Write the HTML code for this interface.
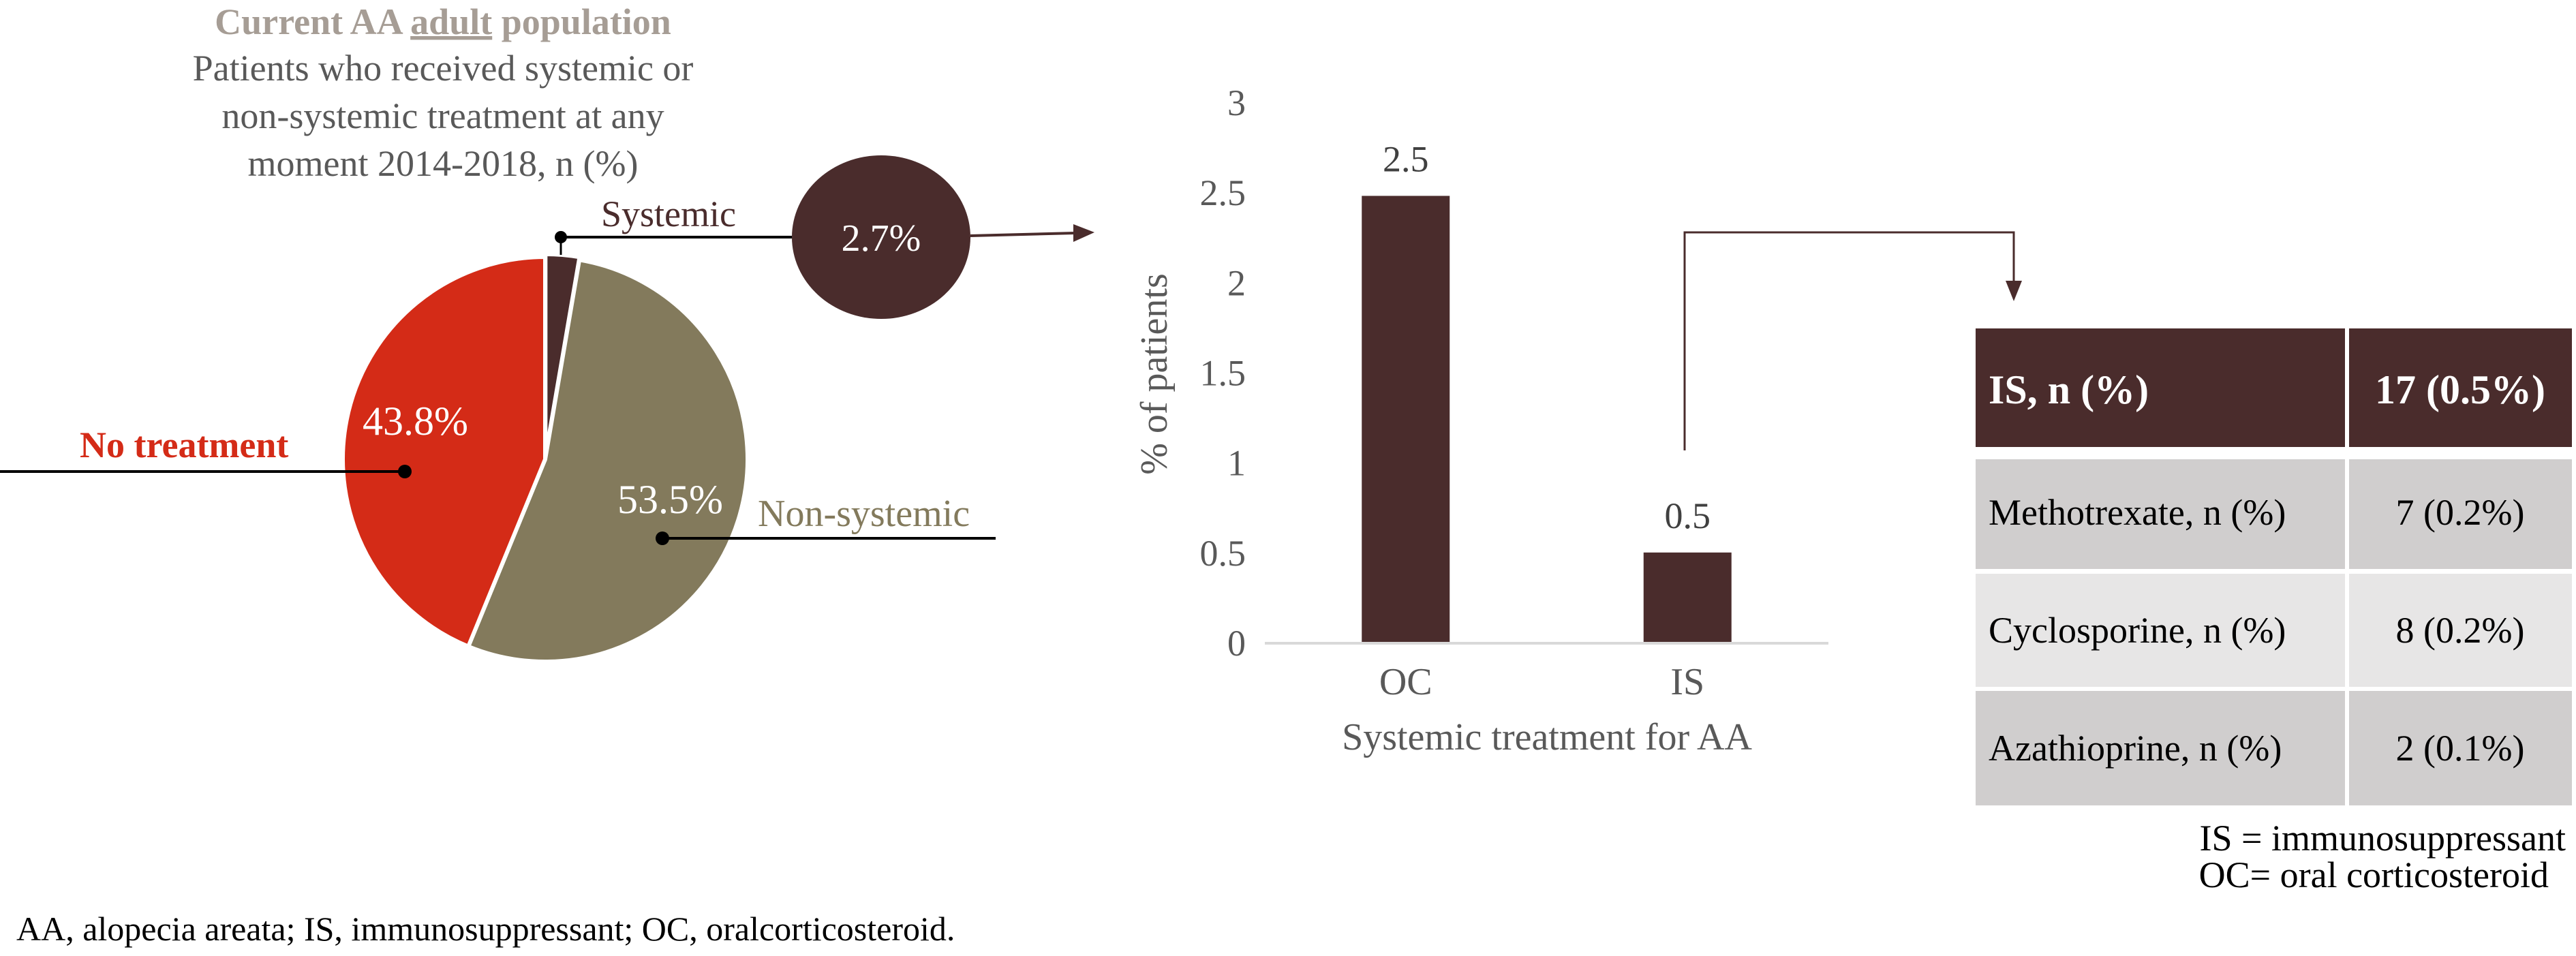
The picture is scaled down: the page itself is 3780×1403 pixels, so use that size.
<!DOCTYPE html>
<html><head><meta charset="utf-8"><style>
html,body{margin:0;padding:0;background:#fff;}
svg{display:block;font-family:"Liberation Serif",serif;}
</style></head><body>
<svg id="fig" width="3780" height="1403" viewBox="0 0 3780 1403" xmlns="http://www.w3.org/2000/svg">
<g text-anchor="middle" font-size="54">
  <text x="650" y="50" fill="#a69d95" font-weight="bold">Current AA <tspan text-decoration="underline">adult</tspan> population</text>
  <text x="650" y="118" fill="#595959">Patients who received systemic or</text>
  <text x="650" y="188" fill="#595959">non-systemic treatment at any</text>
  <text x="650" y="258" fill="#595959">moment 2014-2018, n (%)</text>
</g>
<g id="pie"></g>
<g>
  <line x1="823" y1="348" x2="823" y2="374" stroke="#000" stroke-width="3"/>
  <line x1="823" y1="348" x2="1162" y2="348" stroke="#000" stroke-width="4"/>
  <circle cx="823" cy="348" r="9" fill="#000"/>
  <text x="882" y="332" font-size="54" fill="#4a2c2c">Systemic</text>
  <ellipse cx="1293" cy="348" rx="131" ry="120" fill="#4a2c2c"/>
  <text x="1293" y="368" font-size="56" fill="#fff" text-anchor="middle">2.7%</text>
  <line x1="1424" y1="346" x2="1578" y2="342" stroke="#4a2c2c" stroke-width="4"/>
  <polygon points="1606,341 1575,329 1575,355" fill="#4a2c2c"/>
  <text x="532" y="638" font-size="60" fill="#fff">43.8%</text>
  <text x="117" y="671" font-size="54" fill="#d42b17" font-weight="bold">No treatment</text>
  <line x1="0" y1="692" x2="594" y2="692" stroke="#000" stroke-width="4"/>
  <circle cx="594" cy="692" r="10" fill="#000"/>
  <text x="906" y="753" font-size="60" fill="#fff">53.5%</text>
  <text x="1112" y="772" font-size="56" fill="#837a5c">Non-systemic</text>
  <line x1="972" y1="790" x2="1461" y2="790" stroke="#000" stroke-width="4"/>
  <circle cx="972" cy="790" r="10" fill="#000"/>
</g>
<g id="bar"></g>
<g>
  <polyline points="2472,661 2472,341 2955,341 2955,415" fill="none" stroke="#4a2c2c" stroke-width="3"/>
  <polygon points="2955,442 2943,412 2967,412" fill="#4a2c2c"/>
</g>
<g font-size="54">
  <rect x="2899" y="482" width="542" height="174" fill="#4a2c2c"/>
  <rect x="3447" y="482" width="327" height="174" fill="#4a2c2c"/>
  <text x="2918" y="592" fill="#fff" font-weight="bold" font-size="60">IS, n (%)</text>
  <text x="3610" y="592" fill="#fff" font-weight="bold" font-size="60" text-anchor="middle">17 (0.5%)</text>
  <rect x="2899" y="674" width="542" height="161" fill="#d0cece"/>
  <rect x="3447" y="674" width="327" height="161" fill="#d0cece"/>
  <text x="2918" y="770" fill="#000">Methotrexate, n (%)</text>
  <text x="3610" y="770" fill="#000" text-anchor="middle">7 (0.2%)</text>
  <rect x="2899" y="842" width="542" height="166" fill="#e7e6e6"/>
  <rect x="3447" y="842" width="327" height="166" fill="#e7e6e6"/>
  <text x="2918" y="943" fill="#000">Cyclosporine, n (%)</text>
  <text x="3610" y="943" fill="#000" text-anchor="middle">8 (0.2%)</text>
  <rect x="2899" y="1014" width="542" height="168" fill="#d0cece"/>
  <rect x="3447" y="1014" width="327" height="168" fill="#d0cece"/>
  <text x="2918" y="1116" fill="#000">Azathioprine, n (%)</text>
  <text x="3610" y="1116" fill="#000" text-anchor="middle">2 (0.1%)</text>
</g>
<g font-size="54" fill="#000" text-anchor="end">
  <text x="3765" y="1248">IS = immunosuppressant</text>
  <text x="3740" y="1302">OC= oral corticosteroid</text>
</g>
<text x="24" y="1380" font-size="50" fill="#000">AA, alopecia areata; IS, immunosuppressant; OC, oralcorticosteroid.</text>
</svg>
<script>
const pieLabels = ["Systemic", "Non-systemic", "No treatment"];
const pieValues = [2.7, 53.5, 43.8];
const pieColors = ["#4a2c2c", "#837a5c", "#d42b17"];

const barCategories = ["OC", "IS"];
const barValues = [2.48, 0.5];
const barValueLabels = ["2.5", "0.5"];
const yTicks = [0, 0.5, 1, 1.5, 2, 2.5, 3];
const yTickLabels = ["0", "0.5", "1", "1.5", "2", "2.5", "3"];

const NS = "http://www.w3.org/2000/svg";
function mk(tag, attrs, parent){const e=document.createElementNS(NS,tag);for(const k in attrs)e.setAttribute(k,attrs[k]);parent.appendChild(e);return e;}

// Pie
(function(){
  const g=document.getElementById('pie');
  const cx=800, cy=674, r=297;
  const total=pieValues.reduce((a,b)=>a+b,0);
  let a0=0;
  pieValues.forEach((v,i)=>{
    const a1=a0+v/total*2*Math.PI;
    let ox=0, oy=0;
    if(i===0){const m=(a0+a1)/2; ox=Math.sin(m)*4; oy=-Math.cos(m)*4;}
    const x0=cx+ox+r*Math.sin(a0), y0=cy+oy-r*Math.cos(a0);
    const x1=cx+ox+r*Math.sin(a1), y1=cy+oy-r*Math.cos(a1);
    const large=(a1-a0)>Math.PI?1:0;
    const p=mk('path',{d:`M${cx+ox},${cy+oy} L${x0},${y0} A${r},${r} 0 ${large} 1 ${x1},${y1} Z`,fill:pieColors[i],stroke:'#fff','stroke-width':6,'stroke-linejoin':'round'},g);
    
    
    a0=a1;
  });
})();

// Bar chart
(function(){
  const g=document.getElementById('bar');
  const x0=1856, x1=2683, y0=943, yMax=3, yTop=150;
  const y=v=>y0-(v/yMax)*(y0-yTop);
  const band=(x1-x0)/barCategories.length;
  const xc=i=>x0+band*(i+0.5);
  const bw=129;
  yTicks.forEach((t,i)=>{
    const tx=mk('text',{x:1828,y:y(t)+19,'font-size':54,fill:'#595959','text-anchor':'end'},g);
    tx.textContent=yTickLabels[i];
    
    
  });
  barValues.forEach((v,i)=>{
    const b=mk('rect',{x:xc(i)-bw/2,y:y(v),width:bw,height:y0-y(v),fill:'#4a2c2c'},g);
    
    
    const vl=mk('text',{x:xc(i),y:y(v)-36,'font-size':54,fill:'#404040','text-anchor':'middle'},g);
    vl.textContent=barValueLabels[i];
    
    
    const cl=mk('text',{x:xc(i),y:1019,'font-size':56,fill:'#595959','text-anchor':'middle'},g);
    cl.textContent=barCategories[i];
    
    
  });
  const ax=mk('line',{x1:x0,y1:y0+1,x2:x1,y2:y0+1,stroke:'#d9d9d9','stroke-width':4},g);
  
  
  const xt=mk('text',{x:2270,y:1100,'font-size':56,fill:'#595959','text-anchor':'middle'},g);
  xt.textContent='Systemic treatment for AA';
  
  
  const yt=mk('text',{x:0,y:0,'font-size':56,fill:'#595959','text-anchor':'middle',transform:'translate(1712,549) rotate(-90)'},g);
  yt.textContent='% of patients';
  
  
})();
</script>
</body></html>
